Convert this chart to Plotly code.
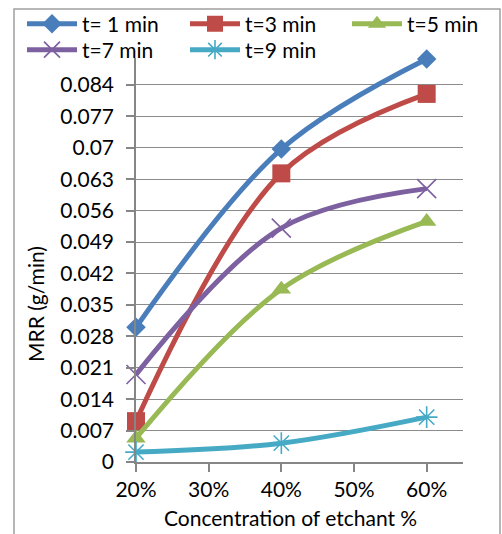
import plotly.graph_objects as go

# Data
concentration = [20, 40, 60]  # etchant concentration, %
series_names = ["t= 1 min", "t=3 min", "t=5 min", "t=7 min", "t=9 min"]
mrr_t1 = [0.030, 0.0697, 0.0898]
mrr_t3 = [0.0091, 0.0643, 0.0820]
mrr_t5 = [0.0053, 0.0385, 0.0536]
mrr_t7 = [0.0195, 0.0521, 0.0609]
mrr_t9 = [0.0022, 0.0042, 0.0100]
y_tick_vals = [0, 0.007, 0.014, 0.021, 0.028, 0.035, 0.042, 0.049, 0.056, 0.063, 0.07, 0.077, 0.084]
y_tick_text = ["0", "0.007", "0.014", "0.021", "0.028", "0.035", "0.042", "0.049",
               "0.056", "0.063", "0.07", "0.077", "0.084"]
x_tick_vals = [20, 30, 40, 50, 60]
x_tick_text = ["20%", "30%", "40%", "50%", "60%"]

FONT = "Lato"
FS = 21

colors = ["#4A7EBB", "#BE4B48", "#98B954", "#7D60A0", "#46AAC5"]
symbols = ["diamond", "square", "triangle-up", "x-thin-open", "asterisk-open"]
sizes = [15, 18, 17, 19, 18]
series = [mrr_t1, mrr_t3, mrr_t5, mrr_t7, mrr_t9]
legends = ["legend", "legend2", "legend3", "legend4", "legend5"]

fig = go.Figure()
for name, ys, c, sym, sz, lg in zip(series_names, series, colors, symbols, sizes, legends):
    thin = sym.endswith("-open")
    fig.add_trace(go.Scatter(
        x=concentration, y=ys, name=name, mode="lines+markers",
        line=dict(color=c, width=5, shape="spline", smoothing=1.0),
        marker=dict(symbol=sym, size=sz, color=c,
                    line=dict(color=c, width=1.6 if thin else 0)),
        cliponaxis=False,
        legend=lg,
    ))

# legend placement (one entry per legend, laid out as in the original two rows)
L = 136.0
W = 327.0
T = 58.0
H = 404.0
def px(x):
    return (x - L) / W
def py(y):
    return (T + H - y) / H

leg_common = dict(font=dict(family=FONT, size=FS, color="#000000"),
                  bgcolor="rgba(0,0,0,0)", xanchor="left", yanchor="middle",
                  itemwidth=50, orientation="v")
pos = {
    "legend": (22, 24),
    "legend2": (185, 24),
    "legend3": (347, 24),
    "legend4": (22, 50),
    "legend5": (185, 50),
}
for lg, (lx, ly) in pos.items():
    fig.update_layout(**{lg: dict(x=px(lx), y=py(ly), **leg_common)})

fig.update_layout(
    width=502, height=534,
    margin=dict(l=136, r=39, t=58, b=72, autoexpand=False),
    paper_bgcolor="white", plot_bgcolor="white",
    font=dict(family=FONT, size=FS, color="#000000"),
    showlegend=True,
    xaxis=dict(range=[20, 65], tickvals=x_tick_vals, ticktext=x_tick_text,
               showgrid=False, zeroline=False, showline=True, linecolor="#868686",
               linewidth=1.5, ticks="outside", ticklen=8, tickcolor="#868686",
               tickwidth=1.5, tickfont=dict(family=FONT, size=FS)),
    yaxis=dict(range=[0, 0.09], tickvals=y_tick_vals, ticktext=y_tick_text,
               showgrid=True, gridcolor="#8C8C8C", gridwidth=1.2, zeroline=False,
               showline=True, linecolor="#868686", linewidth=1.5,
               ticks="outside", ticklen=8, tickcolor="#868686", tickwidth=1.5,
               ticklabelstandoff=8,
               tickfont=dict(family=FONT, size=FS)),
)

# axis titles
fig.add_annotation(text="MRR (g/min)", textangle=-90, xref="paper", yref="paper",
                   x=px(35), y=py(304), xanchor="center", yanchor="middle",
                   showarrow=False, font=dict(family=FONT, size=FS))
fig.add_annotation(text="Concentration of etchant %", xref="paper", yref="paper",
                   x=px(290), y=py(517), xanchor="center", yanchor="middle",
                   showarrow=False, font=dict(family=FONT, size=FS))

# chart area border
fig.add_shape(type="rect", xref="paper", yref="paper",
              x0=px(14), x1=px(500), y0=py(545), y1=py(9),
              line=dict(color="#A0A0A0", width=1.5), layer="above")

fig.write_html(
    "out.html",
    config={"displayModeBar": False},
    post_script="document.body.style.margin='0';document.body.style.padding='0';",
)
